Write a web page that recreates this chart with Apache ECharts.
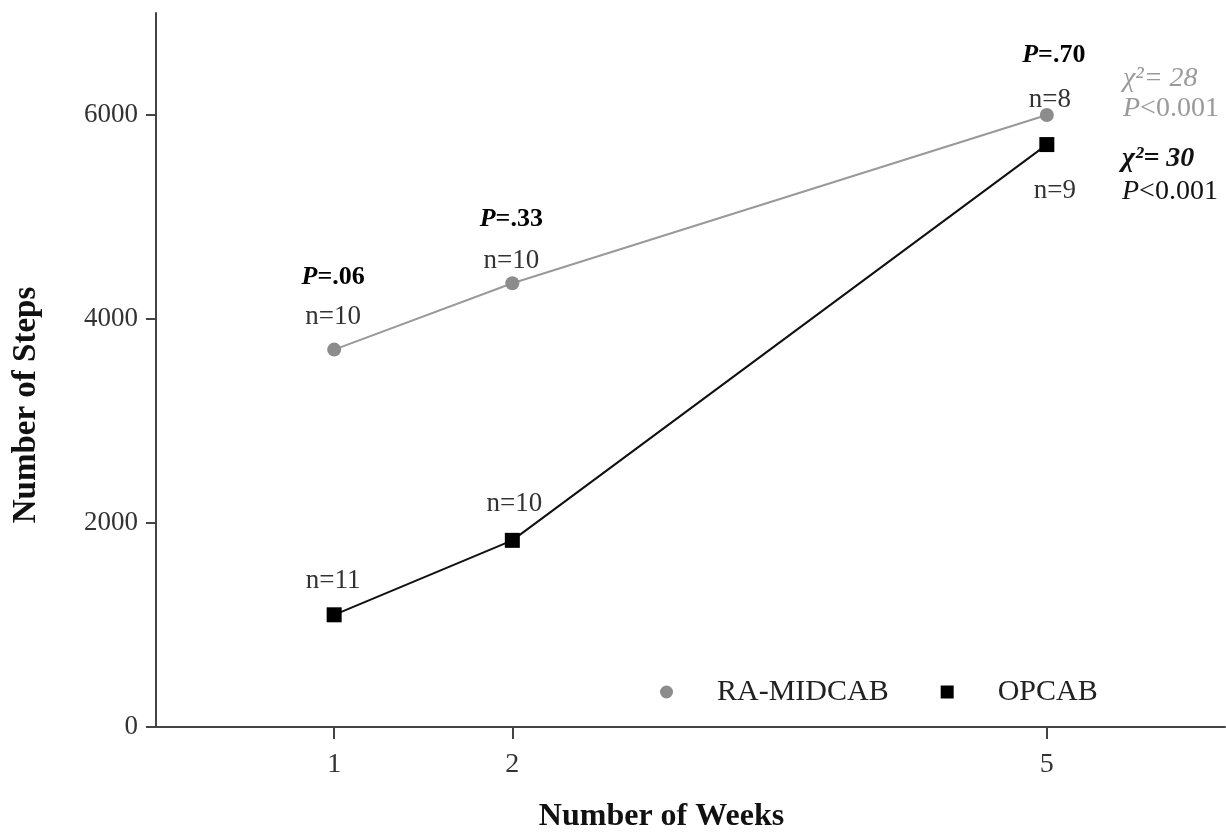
<!DOCTYPE html>
<html>
<head>
<meta charset="utf-8">
<script src="https://cdn.jsdelivr.net/npm/echarts@6/dist/echarts.min.js"></script>
<style>
html,body{margin:0;padding:0;background:#fff;}
#chart{width:1226px;height:833px;}
</style>
</head>
<body>
<div id="chart"></div>
<script>
// ---- data ----
const weeks = [1, 2, 5];
const xTicks = [1, 2, 5];
const yTicks = [0, 2000, 4000, 6000];
const raSteps = [3700, 4350, 6000];
const opcabSteps = [1100, 1830, 5710];
const raN = ['n=10', 'n=10', 'n=8'];
const opcabN = ['n=11', 'n=10', 'n=9'];
const pValues = ['.06', '.33', '.70'];
const raChi = '28';
const opcabChi = '30';
const statP = '<0.001';
const seriesNames = ['RA-MIDCAB', 'OPCAB'];

// ---- styling (label offsets relative to each point) ----
const FONT = '"Liberation Serif", "Times New Roman", serif';
const raNOffsets = [[-1, -33], [-1, -22], [3, -15]];
const pOffsets = [[-1, -72], [-1, -64], [7, -60]];
const opNOffsets = [[-1, -34], [2, -36], [8, 46]];

const chart = echarts.init(document.getElementById('chart'), null, {renderer: 'canvas'});

const raData = weeks.map((w, i) => ({
  value: [w, raSteps[i]],
  label: {show: true, position: 'inside', offset: raNOffsets[i], formatter: raN[i]}
}));
const opData = weeks.map((w, i) => ({
  value: [w, opcabSteps[i]],
  label: {show: true, position: 'inside', offset: opNOffsets[i], formatter: opcabN[i]}
}));
const pMarks = weeks.map((w, i) => ({
  coord: [w, raSteps[i]],
  label: {offset: pOffsets[i], formatter: '{p|P}{v|=' + pValues[i] + '}'}
}));

function statText(x, y, str, color, bold, italicAll) {
  return {type: 'text', left: x, top: y, style: {
    text: str, fill: color,
    font: (italicAll ? 'italic ' : '') + (bold ? 'bold ' : '') + '28px ' + FONT,
    rich: {
      i: {fontStyle: 'italic', fontFamily: FONT, fontSize: 28, fill: color},
      n: {fontFamily: FONT, fontSize: 28, fill: color}
    }
  }};
}

const option = {
  backgroundColor: '#fff',
  animation: false,
  grid: {left: 156, right: 1, top: 13, bottom: 106, containLabel: false, outerBoundsMode: 'none'},
  xAxis: {
    type: 'value', min: 0, max: 6,
    name: 'Number of Weeks', nameLocation: 'middle', nameGap: 74,
    nameTextStyle: {fontFamily: FONT, fontSize: 32, fontWeight: 'bold', color: '#111', padding: [0, 58, 0, 0]},
    axisLine: {show: true, lineStyle: {color: '#444', width: 2}},
    axisTick: {show: true, customValues: xTicks, length: 12, lineStyle: {color: '#444', width: 2}},
    axisLabel: {customValues: xTicks, margin: 24, fontFamily: FONT, fontSize: 28, color: '#333'},
    splitLine: {show: false}
  },
  yAxis: {
    type: 'value', min: 0, max: 7000,
    name: 'Number of Steps', nameLocation: 'middle', nameGap: 113, nameRotate: 90,
    nameTextStyle: {fontFamily: FONT, fontSize: 33, fontWeight: 'bold', color: '#111', padding: [0, 70, 0, 0]},
    axisLine: {show: true, lineStyle: {color: '#444', width: 2}},
    axisTick: {show: true, customValues: yTicks, length: 10, lineStyle: {color: '#444', width: 2}},
    axisLabel: {customValues: yTicks, margin: 18, fontFamily: FONT, fontSize: 27, color: '#333',
      formatter: v => String(v)},
    splitLine: {show: false}
  },
  legend: {
    left: 655, top: 672,
    itemWidth: 13, itemHeight: 13, itemGap: 52,
    textStyle: {fontFamily: FONT, fontSize: 30, color: '#222', padding: [0, 0, 0, 39]},
    data: [
      {name: seriesNames[0], icon: 'circle', itemStyle: {color: '#8c8c8c'}},
      {name: seriesNames[1], icon: 'rect', itemStyle: {color: '#000'}}
    ]
  },
  series: [
    {
      name: seriesNames[0], type: 'line', data: raData,
      symbol: 'circle', symbolSize: 14,
      itemStyle: {color: '#8c8c8c'},
      lineStyle: {color: '#999', width: 2},
      label: {fontFamily: FONT, fontSize: 27, color: '#333'},
      markPoint: {
        symbol: 'circle', symbolSize: 0, silent: true,
        label: {
          show: true, position: 'inside',
          rich: {
            p: {fontFamily: FONT, fontSize: 26, fontWeight: 'bold', fontStyle: 'italic', color: '#000'},
            v: {fontFamily: FONT, fontSize: 26, fontWeight: 'bold', color: '#000'}
          }
        },
        data: pMarks
      },
      z: 2
    },
    {
      name: seriesNames[1], type: 'line', data: opData,
      symbol: 'rect', symbolSize: 15,
      itemStyle: {color: '#000'},
      lineStyle: {color: '#111', width: 2},
      label: {fontFamily: FONT, fontSize: 27, color: '#333'},
      z: 3
    }
  ],
  graphic: [
    statText(1123, 65, 'χ²= ' + raChi, '#9a9a9a', false, true),
    statText(1123, 95, '{i|P}{n|' + statP + '}', '#9a9a9a', false, false),
    statText(1122, 145, 'χ²= ' + opcabChi, '#111', true, true),
    statText(1122, 178, '{i|P}{n|' + statP + '}', '#111', false, false)
  ]
};
chart.setOption(option);
</script>
</body>
</html>
